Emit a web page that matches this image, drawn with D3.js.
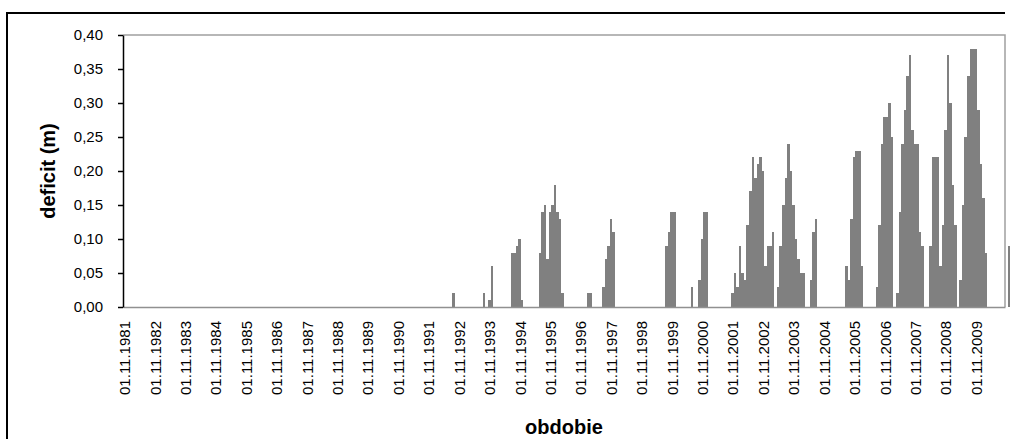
<!DOCTYPE html>
<meta charset="utf-8">
<script src="https://d3js.org/d3.v7.min.js"></script>
<style>
  body { margin: 0; background: #fff; }
  text { font-family: Arial, "Liberation Sans", sans-serif; fill: #000; }
</style>
<div id="chart"></div>
<script>

// x axis labels, one per season (season = Nov..Oct, 12 monthly bars)
var seasonLabels = ["01.11.1981","01.11.1982","01.11.1983","01.11.1984","01.11.1985",
  "01.11.1986","01.11.1987","01.11.1988","01.11.1989","01.11.1990","01.11.1991",
  "01.11.1992","01.11.1993","01.11.1994","01.11.1995","01.11.1996","01.11.1997",
  "01.11.1998","01.11.1999","01.11.2000","01.11.2001","01.11.2002","01.11.2003",
  "01.11.2004","01.11.2005","01.11.2006","01.11.2007","01.11.2008","01.11.2009"];

// monthly deficit (m), Nov..Oct for each season
var zeroSeason = [0,0,0,0,0,0,0,0,0,0,0,0];
var deficit = [
  zeroSeason, zeroSeason, zeroSeason, zeroSeason, zeroSeason,   // 1981-1985
  zeroSeason, zeroSeason, zeroSeason, zeroSeason, zeroSeason,   // 1986-1990
  [0,0,0,0,0,0,0,0,0,0,0.02,0],                                  // 1991
  [0,0,0,0,0,0,0,0,0,0,0.02,0],                                  // 1992
  [0.01,0.06,0,0,0,0,0,0,0,0.08,0.08,0.09],                      // 1993
  [0.10,0.01,0,0,0,0,0,0,0.08,0.14,0.15,0.07],                   // 1994
  [0.14,0.15,0.18,0.14,0.13,0.02,0,0,0,0,0,0],                   // 1995
  [0,0,0,0.02,0.02,0,0,0,0,0.03,0.07,0.09],                      // 1996
  [0.13,0.11,0,0,0,0,0,0,0,0,0,0],                               // 1997
  [0,0,0,0,0,0,0,0,0,0,0.09,0.11],                               // 1998
  [0.14,0.14,0,0,0,0,0,0,0.03,0,0,0.04],                         // 1999
  [0.10,0.14,0.14,0,0,0,0,0,0,0,0,0],                            // 2000
  [0.02,0.05,0.03,0.09,0.05,0.04,0.12,0.17,0.22,0.19,0.21,0.22], // 2001
  [0.20,0.06,0.09,0.09,0.11,0,0.03,0.09,0.15,0.19,0.24,0.20],    // 2002
  [0.15,0.10,0.07,0.05,0.05,0,0,0.04,0.11,0.13,0,0],             // 2003
  [0,0,0,0,0,0,0,0,0,0.06,0.04,0.13],                            // 2004
  [0.22,0.23,0.23,0.06,0,0,0,0,0,0.03,0.12,0.24],                // 2005
  [0.28,0.28,0.30,0.25,0,0.02,0.14,0.24,0.29,0.34,0.37,0.26],    // 2006
  [0.24,0.24,0.11,0.09,0,0,0.09,0.22,0.22,0.22,0.06,0.12],       // 2007
  [0.26,0.37,0.30,0.18,0.12,0,0.04,0.15,0.25,0.34,0.38,0.38],    // 2008
  [0.38,0.29,0.21,0.16,0.08,0,0,0,0,0,0,0],                      // 2009
  [0,0.09]                                                       // 2010 (cut off at the edge)
];

var yTicks = [0, 0.05, 0.10, 0.15, 0.20, 0.25, 0.30, 0.35, 0.40];

// flatten to one bar per month
var data = [];
deficit.forEach(function(season, s) {
  season.forEach(function(v, m) { data.push({ i: s * 12 + m, v: v }); });
});

var W = 1010, H = 439;
var margin = {top: 35, right: 5, bottom: 132, left: 123};
var width = W - margin.left - margin.right,
    height = H - margin.top - margin.bottom;

var svg = d3.select("#chart")
  .append("svg")
    .attr("width", W)
    .attr("height", H);

// outer chart frame (cropped on the right and bottom)
svg.append("path")
  .attr("d", "M7," + H + "V13H1005")
  .attr("fill", "none")
  .attr("stroke", "#000")
  .attr("stroke-width", 2);

var g = svg.append("g")
  .attr("transform", "translate(" + margin.left + "," + margin.top + ")");

var nMonths = seasonLabels.length * 12;
var x = d3.scaleLinear().domain([0, nMonths]).range([0, width]);
var y = d3.scaleLinear().domain([0, 0.4]).range([height, 0]);

// plot area border
g.append("path")
  .attr("d", "M0,0H" + width + "V" + height)
  .attr("fill", "none")
  .attr("stroke", "#a0a0a0")
  .attr("stroke-width", 1.5);

// bars
g.selectAll("rect.bar")
  .data(data.filter(function(d) { return d.v > 0; }))
  .enter()
  .append("rect")
    .attr("class", "bar")
    .attr("x", function(d) { return x(d.i); })
    .attr("width", function(d) { return x(d.i + 1) - x(d.i); })
    .attr("y", function(d) { return y(d.v); })
    .attr("height", function(d) { return height - y(d.v); })
    .attr("fill", "#808080")
    .attr("shape-rendering", "crispEdges");

// x axis
var comma = d3.formatLocale({decimal: ",", thousands: " ", grouping: [3], currency: ["", ""]});
var xAxis = g.append("g")
  .attr("transform", "translate(0," + height + ")")
  .call(d3.axisBottom(x)
    .tickValues(seasonLabels.map(function(d, k) { return k * 12 + 0.5; }))
    .tickSize(0)
    .tickSizeOuter(0)
    .tickFormat(function(d, k) { return seasonLabels[k]; }));
xAxis.select(".domain").attr("stroke", "#909090").attr("stroke-width", 1.5);
xAxis.selectAll("text")
  .attr("transform", "rotate(-90)")
  .attr("x", -14)
  .attr("y", 0)
  .attr("dy", "0.36em")
  .style("text-anchor", "end")
  .style("font-size", "15px");

// y axis
var yAxis = g.append("g")
  .call(d3.axisLeft(y)
    .tickValues(yTicks)
    .tickSize(5)
    .tickSizeOuter(0)
    .tickPadding(15)
    .tickFormat(comma.format(".2f")));
yAxis.select(".domain").attr("stroke", "#000").attr("stroke-width", 1.5);
yAxis.selectAll(".tick line").attr("stroke", "#000").attr("stroke-width", 1.5);
yAxis.selectAll("text").style("font-size", "15px");

// axis titles
svg.append("text")
  .attr("transform", "translate(55," + (margin.top + height / 2) + ") rotate(-90)")
  .attr("text-anchor", "middle")
  .style("font-size", "20px")
  .style("font-weight", "bold")
  .text("deficit (m)");

svg.append("text")
  .attr("x", margin.left + width / 2)
  .attr("y", 434)
  .attr("text-anchor", "middle")
  .style("font-size", "20px")
  .style("font-weight", "bold")
  .text("obdobie");

</script>
